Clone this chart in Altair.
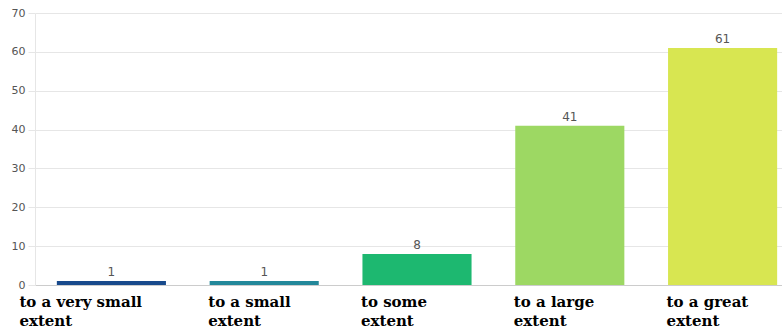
import altair as alt
import pandas as pd

categories = ["to a very small extent", "to a small extent", "to some extent",
              "to a large extent", "to a great extent"]
values = [1, 1, 8, 41, 61]
colors = ["#184a8c", "#23889a", "#1db870", "#9dd863", "#d8e651"]
y_ticks = [0, 10, 20, 30, 40, 50, 60, 70]

df = pd.DataFrame({"cat": categories, "val": values})

x = alt.X("cat:N", sort=categories, title=None,
          scale=alt.Scale(range=[0, 764], paddingInner=0.286, paddingOuter=0.143),
          axis=alt.Axis(labelAngle=0, labelAlign="left",
                        labelOffset={"condition": {"test": "datum.index == 0", "value": -92},
                                     "value": -56},
                        labelBaseline="top", labelPadding=9,
                        labelFont="DejaVu Serif", labelFontWeight="bold",
                        labelFontSize=15, labelColor="#000000", labelLineHeight=19,
                        labelExpr="[replace(datum.label, ' extent', ''), 'extent']",
                        ticks=False, domainColor="#cccccc", grid=False))
y = alt.Y("val:Q", title=None,
          scale=alt.Scale(domain=[0, 70], nice=False),
          axis=alt.Axis(values=y_ticks, labelFont="DejaVu Sans",
                        labelFontSize=11, labelColor="#555555", labelPadding=3,
                        tickSize=7, tickColor="#e6e6e6", gridColor="#e6e6e6",
                        domainColor="#e6e6e6", labelOverlap=False))

bars = alt.Chart(df).mark_bar().encode(
    x=x, y=y,
    color=alt.Color("cat:N", sort=categories,
                    scale=alt.Scale(domain=categories, range=colors), legend=None),
)
labels = alt.Chart(df).mark_text(dy=-9, font="DejaVu Sans", fontSize=12).encode(
    x=x, y=y, text="val:Q", color=alt.value("#555555"))

chart = (bars + labels).properties(
    width=747, height=272,
    autosize=alt.AutoSizeParams(type="none"),
    padding={"left": 35, "top": 13, "right": 0, "bottom": 47},
).configure_view(stroke=None)

chart.save("out.html", embed_options={"renderer": "svg", "actions": False})
